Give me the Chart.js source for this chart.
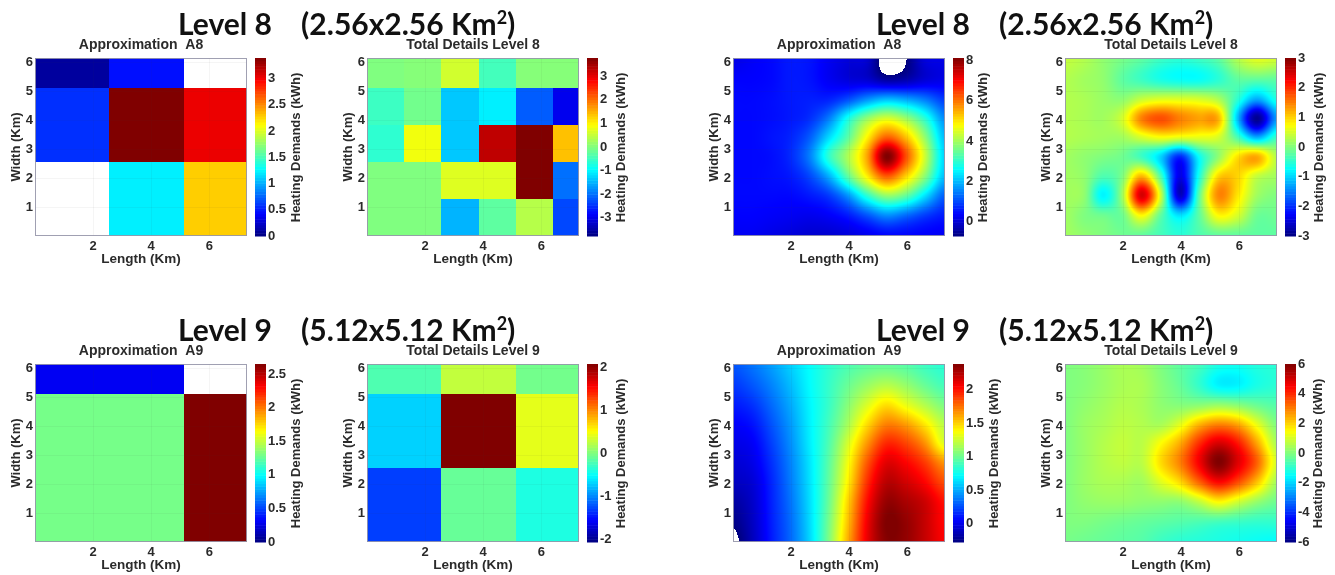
<!DOCTYPE html>
<html>
<head>
<meta charset="utf-8">
<title>Heating demands</title>
<script src="https://cdn.jsdelivr.net/npm/chart.js@4/dist/chart.umd.min.js"></script>
<style>
  html, body { margin: 0; padding: 0; background: #fff; }
  #page { position: relative; width: 1335px; height: 575px; overflow: hidden; }
  canvas { position: absolute; filter: blur(0.35px); }
  .level { position: absolute; font: 700 30px Lato, sans-serif; color: #111; white-space: pre; z-index: 2; line-height: 32px; }
  .level sup { font-size: 18px; line-height: 0; }
</style>
</head>
<body>
<div id="page">
  <div class="level" style="left:178px;top:7px">Level 8    (2.56x2.56 Km<sup>2</sup>)</div>
  <div class="level" style="left:876px;top:7px">Level 8    (2.56x2.56 Km<sup>2</sup>)</div>
  <div class="level" style="left:178px;top:313px">Level 9    (5.12x5.12 Km<sup>2</sup>)</div>
  <div class="level" style="left:876px;top:313px">Level 9    (5.12x5.12 Km<sup>2</sup>)</div>
</div>
<script>
// axis ticks
const lengthTicks = [2, 4, 6];
const widthTicks = [1, 2, 3, 4, 5, 6];
const lengthMax = 7.3;
const widthMax = 6.15;

// block panels: cell edges in km, rows listed from the bottom, null = white
const coarseX = [0, 2.56, 5.12, 7.3];
const coarseY = [0, 2.56, 5.12, 6.15];
const fineX = [0, 1.28, 2.56, 3.84, 5.12, 6.4, 7.3];
const fineY = [0, 1.28, 2.56, 3.84, 5.12, 6.15];

const blockA8 = [
    [null, 1.22, 2.28],
    [0.58, 3.39, 3.03],
    [0.1, 0.47, null]
];
const blockD8 = [
    [0, 0, -1.5, -0.25, 0.4, -2.3],
    [0, 0, 0.7, 0.7, 3.77, -2],
    [-0.6, 0.85, -1.35, 3.3, 3.77, 1.4],
    [-0.5, -0.1, -1.35, -1.05, -2.15, -2.95],
    [0, 0.05, 0.6, -0.45, 0.05, 0.05]
];
const blockA9 = [
    [1.3, 1.3, 2.65],
    [1.3, 1.3, 2.65],
    [0.3, 0.3, null]
];
const blockD9 = [
    [-1.3, -0.1, -0.4],
    [-0.7, 2.07, 0.41],
    [-0.2, 0.27, -0.05]
];

// smooth panels: values read at these km positions, rows listed from the bottom
const smoothX = [0, 0.66, 1.32, 1.98, 2.64, 3.3, 3.96, 4.62, 5.28, 5.94, 6.6, 7.3];
const smoothY = [0, 0.7, 1.4, 2.05, 2.75, 3.4, 4.05, 4.7, 5.4, 6.15];

const smoothA8 = [
    [0.3, 0.3, 0.2, 0.1, 0, 0, 0.1, 0.25, 0.4, 0.4, 0.35, 0.3],
    [0.4, 0.4, 0.35, 0.3, 0.25, 0.35, 0.6, 1.1, 1.6, 1.3, 0.9, 0.6],
    [0.45, 0.45, 0.45, 0.45, 0.6, 0.9, 1.7, 3.0, 3.9, 3.5, 2.4, 1.2],
    [0.45, 0.45, 0.5, 0.6, 1.0, 1.9, 3.4, 4.9, 6.2, 5.2, 3.8, 2.0],
    [0.45, 0.45, 0.5, 0.75, 1.5, 3.0, 4.1, 5.6, 8.12, 6.4, 4.4, 2.2],
    [0.45, 0.45, 0.55, 0.7, 1.2, 2.3, 3.4, 4.9, 6.2, 5.4, 3.9, 2.0],
    [0.45, 0.45, 0.5, 0.6, 0.8, 1.5, 2.8, 3.9, 4.5, 4.0, 3.0, 1.6],
    [0.45, 0.45, 0.5, 0.6, 0.65, 0.7, 1.1, 1.7, 2.1, 1.9, 1.5, 0.9],
    [0.4, 0.4, 0.45, 0.6, 0.55, 0.3, 0.1, 0, -0.4, -0.3, 0.05, 0.2],
    [0.2, 0.35, 0.45, 0.6, 0.55, 0.3, 0.1, 0, -1.1, -0.75, 0.1, 0.2]
];
const smoothD8 = [
    [0.2, 0.1, 0, -0.1, -0.2, -0.35, -0.5, -0.3, -0.2, -0.2, -0.2, -0.2],
    [0.2, 0, -0.1, -0.1, 0.75, -0.2, -0.9, -0.2, 0.75, 0.5, -0.1, -0.1],
    [0.2, 0.1, -0.8, 0.2, 2.5, 0.45, -2.6, -0.2, 1.45, 0.9, 0.2, 0],
    [0.2, 0.1, -0.3, 0, 1.2, -0.3, -2.4, -0.6, 1.0, 1.0, 0.4, 0.2],
    [0.2, 0.1, 0, -0.1, -0.4, -1.0, -2.0, -0.7, 0.1, 0.9, 1.25, 0.3],
    [0.3, 0.25, 0.2, 0.2, 0.5, 0.7, 0.6, 0.6, 0.5, -0.3, -1.2, -0.4],
    [0.3, 0.25, 0.2, 0.5, 1.5, 1.8, 1.5, 1.3, 1.2, -1.1, -2.9, -1.3],
    [0.3, 0.25, 0.15, 0.1, 0.45, 0.6, 0.6, 0.55, 0.3, -0.5, -1.3, -0.6],
    [0.3, 0.2, 0.1, -0.2, -0.4, -0.6, -0.7, -0.7, -0.5, -0.2, -0.2, -0.2],
    [0.4, 0.3, 0.1, -0.05, -0.2, -0.4, -0.5, -0.4, -0.2, 0.3, 0.6, 0.5]
];
const smoothA9 = [
    [-0.32, -0.12, 0.12, 0.33, 0.62, 1.05, 1.6, 2.1, 2.36, 2.33, 2.2, 2.05],
    [-0.25, -0.1, 0.13, 0.34, 0.63, 1.03, 1.55, 2.08, 2.38, 2.33, 2.2, 2.03],
    [-0.18, -0.08, 0.14, 0.36, 0.64, 1.0, 1.5, 2.02, 2.32, 2.27, 2.18, 2.0],
    [-0.1, -0.05, 0.15, 0.38, 0.65, 0.98, 1.42, 1.93, 2.23, 2.17, 2.05, 1.85],
    [-0.05, 0, 0.18, 0.4, 0.66, 0.96, 1.36, 1.82, 2.12, 2.05, 1.9, 1.65],
    [0, 0.04, 0.22, 0.43, 0.68, 0.93, 1.28, 1.66, 1.95, 1.88, 1.68, 1.3],
    [0.05, 0.1, 0.27, 0.46, 0.69, 0.9, 1.16, 1.48, 1.72, 1.65, 1.45, 1.2],
    [0.12, 0.18, 0.33, 0.5, 0.7, 0.87, 1.08, 1.3, 1.48, 1.35, 1.2, 1.05],
    [0.2, 0.28, 0.4, 0.55, 0.72, 0.86, 1.0, 1.12, 1.2, 1.12, 1.0, 0.9],
    [0.28, 0.36, 0.47, 0.6, 0.73, 0.84, 0.92, 0.97, 0.98, 0.95, 0.88, 0.83]
];
const smoothD9 = [
    [-0.1, -0.2, -0.3, -0.4, -0.5, -0.8, -1, -1.1, -1.2, -1.3, -1.4, -1.5],
    [0, 0, -0.1, -0.2, -0.3, -0.4, -0.5, -0.6, -0.7, -0.8, -0.9, -0.9],
    [0, 0.2, 0.3, 0.3, 0.2, 0.2, 0.2, 0.8, 1.6, 1.0, 0.3, -0.2],
    [0, 0.3, 0.5, 0.5, 0.4, 1.1, 1.9, 3.3, 4.4, 3.6, 2.2, 0.4],
    [0, 0.3, 0.6, 0.75, 0.7, 1.9, 3.0, 4.6, 6, 4.9, 3.4, 1.0],
    [0, 0.3, 0.6, 0.8, 0.7, 1.5, 2.5, 4.0, 5.0, 4.3, 2.6, 0.5],
    [0, 0.3, 0.5, 0.7, 0.6, 0.5, 1.2, 2.4, 3.0, 2.6, 1.3, 0],
    [0, 0.2, 0.4, 0.6, 0.5, 0.2, 0.1, 0.2, 0.4, 0.2, -0.2, -0.5],
    [0, 0.1, 0.3, 0.5, 0.5, 0.1, -0.3, -0.9, -1.6, -1.6, -1.2, -1],
    [0, 0.1, 0.3, 0.5, 0.4, 0, -0.4, -0.7, -1.2, -1.3, -1.1, -1]
];

// colorbar ticks
const ticksA8 = [0, 0.5, 1, 1.5, 2, 2.5, 3];
const ticksD8 = [-3, -2, -1, 0, 1, 2, 3];
const ticksA8s = [0, 2, 4, 6, 8];
const ticksA9 = [0, 0.5, 1, 1.5, 2, 2.5];
const ticksD9 = [-2, -1, 0, 1, 2];
const ticksA9s = [0, 0.5, 1, 1.5, 2];
const ticksD9s = [-6, -4, -2, 0, 2, 4, 6];

const labelFont = { family: 'Liberation Sans', weight: 'bold', size: 13 };
const textColor = '#2b2b2b';
const gridColor = 'rgba(60,60,60,0.05)';

// matlab jet
function jet(t) {
    const c = v => Math.round(255 * Math.max(0, Math.min(1, v)));
    return [c(1.5 - Math.abs(4 * t - 3)), c(1.5 - Math.abs(4 * t - 2)), c(1.5 - Math.abs(4 * t - 1))];
}

function cubic(a, b, c, d, t) {
    return b + 0.5 * t * (c - a + t * (2 * a - 5 * b + 4 * c - d + t * (3 * (b - c) + d - a)));
}

function findSegment(nodes, v) {
    let i = 0;
    while (i < nodes.length - 2 && v > nodes[i + 1]) i++;
    return [i, (v - nodes[i]) / (nodes[i + 1] - nodes[i])];
}

// value at a km position, shading like "shading interp"
function sampleGrid(grid, x, y) {
    const [ix, tx] = findSegment(smoothX, x);
    const [iy, ty] = findSegment(smoothY, y);
    const col = [];
    for (let j = iy - 1; j <= iy + 2; j++) {
        const row = grid[Math.max(0, Math.min(grid.length - 1, j))];
        const at = k => row[Math.max(0, Math.min(row.length - 1, k))];
        col.push(cubic(at(ix - 1), at(ix), at(ix + 1), at(ix + 2), tx));
    }
    return cubic(col[0], col[1], col[2], col[3], ty);
}

// draws cells, smooth fields and the colorbar from the scales
const heatPlugin = {
    id: 'heat',
    beforeDatasetsDraw(chart, args, opts) {
        const { ctx, chartArea: area, scales } = chart;
        const xs = scales.x, ys = scales.y, cb = scales.cb;
        const toT = v => (v - cb.min) / (cb.max - cb.min);
        ctx.save();
        if (opts.smooth) {
            const w = Math.round(area.right - area.left), h = Math.round(area.bottom - area.top);
            const off = document.createElement('canvas');
            off.width = w; off.height = h;
            const offCtx = off.getContext('2d');
            const img = offCtx.createImageData(w, h);
            for (let py = 0; py < h; py++) {
                const km2 = ys.getValueForPixel(area.top + py + 0.5);
                for (let px = 0; px < w; px++) {
                    const km1 = xs.getValueForPixel(area.left + px + 0.5);
                    const v = sampleGrid(opts.smooth, km1, km2);
                    const p = (py * w + px) * 4;
                    if (v < cb.min) { img.data[p + 3] = 0; continue; }
                    const rgb = jet(Math.min(1, toT(v)));
                    img.data[p] = rgb[0]; img.data[p + 1] = rgb[1]; img.data[p + 2] = rgb[2]; img.data[p + 3] = 255;
                }
            }
            offCtx.putImageData(img, 0, 0);
            ctx.drawImage(off, area.left, area.top);
        } else {
            chart.data.datasets[0].data.forEach(cell => {
                if (cell.v === null) return;
                const rgb = jet(Math.min(1, toT(cell.v)));
                const x0 = Math.round(xs.getPixelForValue(cell.x0)), x1 = Math.round(xs.getPixelForValue(cell.x1));
                const y0 = Math.round(ys.getPixelForValue(cell.y0)), y1 = Math.round(ys.getPixelForValue(cell.y1));
                ctx.fillStyle = 'rgb(' + rgb.join(',') + ')';
                ctx.fillRect(x0, y1, x1 - x0, y0 - y1);
            });
        }
        // colorbar, 64 levels like the matlab colormap
        const barLeft = area.right + 8;
        for (let i = 0; i < 64; i++) {
            const lo = cb.min + (cb.max - cb.min) * i / 64, hi = cb.min + (cb.max - cb.min) * (i + 1) / 64;
            const top = cb.getPixelForValue(hi), bot = cb.getPixelForValue(lo);
            ctx.fillStyle = 'rgb(' + jet((i + 0.5) / 64).join(',') + ')';
            ctx.fillRect(barLeft, top, 11, bot - top + 0.5);
        }
        ctx.restore();
    },
    afterDraw(chart, args, opts) {
        const { ctx, chartArea: area } = chart;
        ctx.save();
        ctx.strokeStyle = opts.frame;
        ctx.lineWidth = 1;
        ctx.strokeRect(area.left + 0.5, area.top + 0.5, area.right - area.left - 1, area.bottom - area.top - 1);
        // matlab colorbar label reads bottom to top, the right axis title can't do that
        ctx.translate(area.right + opts.barTitleX, (area.top + area.bottom) / 2 + 0.5);
        ctx.rotate(-Math.PI / 2);
        ctx.font = 'bold 13px "Liberation Sans"';
        ctx.fillStyle = textColor;
        ctx.textAlign = 'center';
        ctx.textBaseline = 'middle';
        ctx.fillText('Heating Demands (kWh)', 0, 0);
        ctx.restore();
    }
};

function cellsFrom(edgesX, edgesY, rows) {
    const cells = [];
    rows.forEach((row, j) => row.forEach((v, i) => {
        cells.push({ x: edgesX[i], y: edgesY[j], x0: edgesX[i], x1: edgesX[i + 1], y0: edgesY[j], y1: edgesY[j + 1], v: v });
    }));
    return cells;
}

function pointsFrom(rows) {
    const points = [];
    rows.forEach((row, j) => row.forEach((v, i) => {
        points.push({ x: smoothX[i], y: smoothY[j], v: v });
    }));
    return points;
}

function makePanel(left, top, title, data, smooth, cbMin, cbMax, cbTicks, barTitleX) {
    const canvas = document.createElement('canvas');
    canvas.width = 307;
    canvas.height = 240;
    canvas.style.left = left + 'px';
    canvas.style.top = top + 'px';
    document.getElementById('page').appendChild(canvas);

    new Chart(canvas.getContext('2d'), {
        type: 'scatter',
        data: { datasets: [{ data: data, pointRadius: 0, showLine: false }] },
        plugins: [heatPlugin],
        options: {
            responsive: false,
            animation: false,
            devicePixelRatio: 1,
            layout: { padding: 0 },
            plugins: {
                legend: { display: false },
                tooltip: { enabled: false },
                title: {
                    display: true,
                    fullSize: false,
                    text: title,
                    color: textColor,
                    font: { family: 'Liberation Sans', weight: 'bold', size: 14, lineHeight: 1.2 },
                    padding: { top: 1, bottom: 4.2 }
                },
                heat: { smooth: smooth, barTitleX: barTitleX, frame: 'rgba(150,150,170,0.9)' }
            },
            scales: {
                x: {
                    type: 'linear', min: 0, max: lengthMax,
                    afterBuildTicks: s => { s.ticks = lengthTicks.map(v => ({ value: v })); },
                    afterFit: s => { s.height = 40; s.paddingLeft = 0; s.paddingRight = 0; },
                    ticks: { color: textColor, font: labelFont, padding: 3, maxRotation: 0, autoSkip: false },
                    grid: { color: gridColor, drawTicks: false, z: 1 },
                    border: { display: false },
                    title: { display: true, text: 'Length (Km)', color: textColor, font: { family: 'Liberation Sans', weight: 'bold', size: 13.5 }, padding: { top: 0, bottom: 9 } }
                },
                y: {
                    type: 'linear', min: 0, max: widthMax,
                    afterBuildTicks: s => { s.ticks = widthTicks.map(v => ({ value: v })); },
                    afterFit: s => { s.width = 35; s.paddingTop = 0; s.paddingBottom = 0; },
                    ticks: { color: textColor, font: labelFont, padding: 2, autoSkip: false },
                    grid: { color: gridColor, drawTicks: false, z: 1 },
                    border: { display: false },
                    title: { display: true, text: 'Width (Km)', color: textColor, font: { family: 'Liberation Sans', weight: 'bold', size: 13 }, padding: { top: 9, bottom: 0 } }
                },
                cb: {
                    type: 'linear', position: 'right', min: cbMin, max: cbMax,
                    afterBuildTicks: s => { s.ticks = cbTicks.map(v => ({ value: v })); },
                    afterFit: s => { s.width = 60; s.paddingTop = 0; s.paddingBottom = 0; },
                    ticks: { color: textColor, font: labelFont, padding: 21, autoSkip: false, callback: v => String(v) },
                    grid: { display: false, drawTicks: false },
                    border: { display: false }
                }
            }
        }
    });
}

makePanel(0, 36, 'Approximation  A8', cellsFrom(coarseX, coarseY, blockA8), null, 0, 3.39, ticksA8, 49);
makePanel(332, 36, 'Total Details Level 8', cellsFrom(fineX, fineY, blockD8), null, -3.77, 3.77, ticksD8, 42);
makePanel(698, 36, 'Approximation  A8', pointsFrom(smoothA8), smoothA8, -0.7, 8.12, ticksA8s, 38);
makePanel(1030, 36, 'Total Details Level 8', pointsFrom(smoothD8), smoothD8, -3, 3, ticksD8, 42);
makePanel(0, 342, 'Approximation  A9', cellsFrom(coarseX, coarseY, blockA9), null, 0, 2.65, ticksA9, 49);
makePanel(332, 342, 'Total Details Level 9', cellsFrom(coarseX, coarseY, blockD9), null, -2.07, 2.07, ticksD9, 42);
makePanel(698, 342, 'Approximation  A9', pointsFrom(smoothA9), smoothA9, -0.27, 2.38, ticksA9s, 49);
makePanel(1030, 342, 'Total Details Level 9', pointsFrom(smoothD9), smoothD9, -6, 6, ticksD9s, 41);
</script>
</body>
</html>
